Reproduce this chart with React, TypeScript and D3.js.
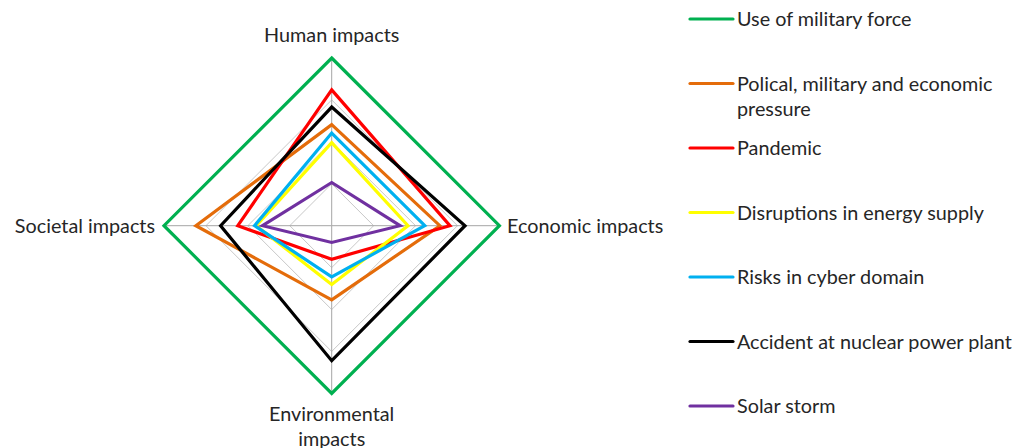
import React from "react";
import * as d3 from "d3";

// Impact axes, clockwise from the top
const axes = ["Human impacts", "Economic impacts", "Environmental impacts", "Societal impacts"];

const seriesNames = [
  "Use of military force",
  "Polical, military and economic pressure",
  "Pandemic",
  "Disruptions in energy supply",
  "Risks in cyber domain",
  "Accident at nuclear power plant",
  "Solar storm",
];

const seriesColors = ["#00b050", "#e46c0a", "#ff0000", "#ffff00", "#00b0f0", "#000000", "#7030a0"];

// Scores per axis: Human, Economic, Environmental, Societal
const militaryForce = [4, 4, 4, 4];
const politicalPressure = [2.41, 2.58, 1.77, 3.24];
const pandemic = [3.24, 2.82, 0.8, 2.24];
const energySupply = [1.98, 1.82, 1.4, 1.8];
const cyberRisks = [2.21, 2.22, 1.22, 1.84];
const nuclearAccident = [2.83, 3.18, 3.22, 2.65];
const solarStorm = [1.03, 1.63, 0.4, 1.65];

const seriesValues = [
  militaryForce,
  politicalPressure,
  pandemic,
  energySupply,
  cyberRisks,
  nuclearAccident,
  solarStorm,
];

const gridLevels = [1, 2, 3, 4];

const W = 1017;
const H = 448;
const cx = 331.7;
const cy = 225.7;
const R = 167.7;
const FONT = "Lato, 'Open Sans', sans-serif";
const FS = 19.8;
const TEXT = "#262626";

export default function App() {
  const r = d3.scaleLinear().domain([0, 4]).range([0, R]);
  const angle = d3
    .scalePoint<string>()
    .domain(axes)
    .range([0, (2 * Math.PI * (axes.length - 1)) / axes.length]);

  const radial = d3
    .lineRadial<number>()
    .angle((_, i) => angle(axes[i]) as number)
    .radius((v) => r(v))
    .curve(d3.curveLinearClosed);

  const polar = (a: number, rad: number) => [Math.sin(a) * rad, -Math.cos(a) * rad];

  const legendX = 690;
  const legendTop = 19;
  const legendStep = 64.5;

  return (
    <svg
      width={W}
      height={H}
      style={{ position: "absolute", left: 0, top: 0, background: "#fff" }}
      fontFamily={FONT}
    >
      <g transform={`translate(${cx},${cy})`}>
        {gridLevels.map((lv) => (
          <path
            key={lv}
            d={radial(axes.map(() => lv)) || ""}
            fill="none"
            stroke="#c8c8c8"
            strokeWidth={1}
          />
        ))}
        {axes.map((a) => {
          const [x, y] = polar(angle(a) as number, r(4));
          return <line key={a} x1={0} y1={0} x2={x} y2={y} stroke="#a6a6a6" strokeWidth={1} />;
        })}
        {seriesValues.map((vals, i) => (
          <path
            key={seriesNames[i]}
            d={radial(vals) || ""}
            fill="none"
            stroke={seriesColors[i]}
            strokeWidth={3.2}
            strokeLinejoin="miter"
          />
        ))}
      </g>

      {/* Axis labels */}
      <text x={cx} y={42} textAnchor="middle" fontSize={FS} fill={TEXT}>
        Human impacts
      </text>
      <text x={507} y={233} textAnchor="start" fontSize={FS} fill={TEXT}>
        Economic impacts
      </text>
      <text x={155} y={233} textAnchor="end" fontSize={FS} fill={TEXT}>
        Societal impacts
      </text>
      <text x={cx} y={421} textAnchor="middle" fontSize={FS} fill={TEXT}>
        <tspan x={cx}>Environmental</tspan>
        <tspan x={cx} dy={24.5}>
          impacts
        </tspan>
      </text>

      {/* Legend */}
      {seriesNames.map((name, i) => {
        const y = legendTop + i * legendStep;
        const lines =
          name === "Polical, military and economic pressure"
            ? ["Polical, military and economic", "pressure"]
            : [name];
        return (
          <g key={name}>
            <line
              x1={legendX}
              x2={legendX + 43}
              y1={y}
              y2={y}
              stroke={seriesColors[i]}
              strokeWidth={3.2}
              strokeLinecap="round"
            />
            <text x={737} y={y + 7} fontSize={FS} fill={TEXT}>
              {lines.map((l, k) => (
                <tspan key={k} x={737} dy={k === 0 ? 0 : 25}>
                  {l}
                </tspan>
              ))}
            </text>
          </g>
        );
      })}
    </svg>
  );
}
